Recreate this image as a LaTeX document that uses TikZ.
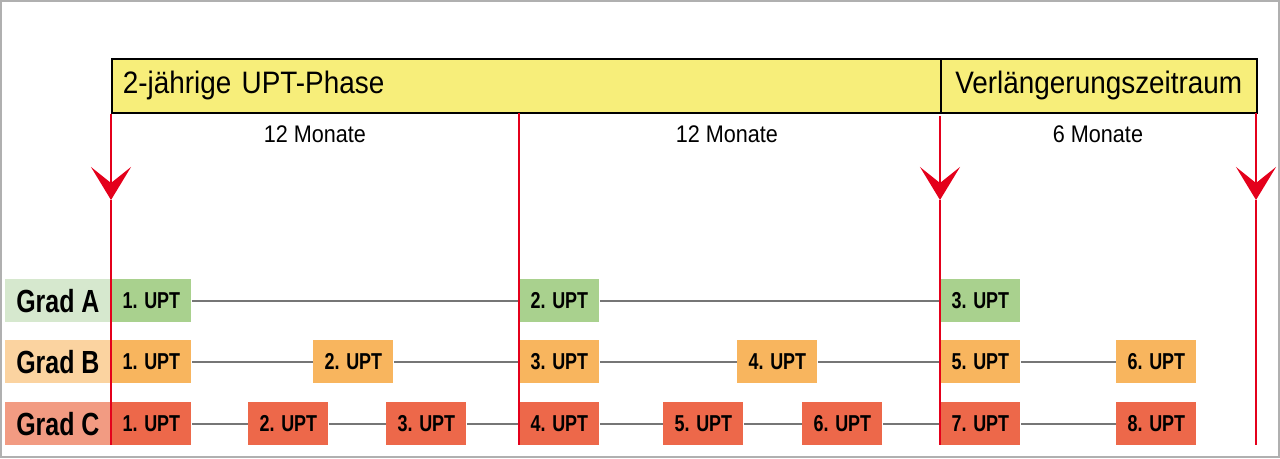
\documentclass[tikz,border=0pt]{standalone}
\usepackage{fontspec}
\setmainfont{Liberation Sans}
\newfontfamily\condfont[FakeStretch=0.78]{Liberation Sans}
\newfontfamily\midfont[FakeStretch=0.9]{Liberation Sans}
\usepackage{tikz}
\usetikzlibrary{arrows.meta,positioning}
\definecolor{barYellow}{RGB}{247,238,122}
\definecolor{markRed}{RGB}{228,0,27}
\definecolor{frameGray}{RGB}{176,176,176}
\definecolor{lineGray}{RGB}{118,118,118}
\definecolor{gradAdark}{RGB}{169,209,142}
\definecolor{gradAlight}{RGB}{214,232,206}
\definecolor{gradBdark}{RGB}{248,181,94}
\definecolor{gradBlight}{RGB}{251,211,160}
\definecolor{gradCdark}{RGB}{237,104,74}
\definecolor{gradClight}{RGB}{242,155,130}

\begin{document}
\begin{tikzpicture}[
  x=0.5pt, y=-0.5pt,
  phase/.style={draw=black, line width=0.8pt, fill=barYellow, minimum height=27pt, inner sep=0pt, font=\midfont\fontsize{15.5}{17}\selectfont},
  months/.style={font=\midfont\fontsize{12}{14}\selectfont},
  grad/.style={anchor=west, minimum width=52.5pt, minimum height=21.5pt, inner sep=0pt, font=\condfont\bfseries\fontsize{16}{18}\selectfont},
  upt/.style={anchor=west, minimum width=40pt, minimum height=21.5pt, inner sep=0pt, font=\condfont\bfseries\fontsize{11.5}{13}\selectfont},
  link/.style={draw=lineGray, line width=1pt},
  redmark/.style={draw=markRed, line width=1pt},
  redtip/.style={redmark, -{Stealth[length=16.5pt,width=20pt,inset=8pt]}}
]
\useasboundingbox (0,0) rectangle (1280,459);
\draw[frameGray, line width=1pt] (1,1) rectangle (1279,457);

% header bar
\node[phase, anchor=north west, minimum width=414.5pt, text width=403.5pt, align=left, inner xsep=5.5pt] (upt-phase) at (111,58) {2-jährige UPT-Phase};
\node[phase, anchor=north west, minimum width=158pt] (extension) at (940,58) {Verlängerungszeitraum};

\node[months] (m1) at (315,134) {12 Monate};
\node[months] (m2) at (727,134) {12 Monate};
\node[months] (m3) at (1098,134) {6 Monate};

% row labels
\node[grad, fill=gradAlight] (gradA) at (5,301) {Grad A};
\node[grad, fill=gradBlight] (gradB) at (5,362) {Grad B};
\node[grad, fill=gradClight] (gradC) at (5,424) {Grad C};

% Grad A
\node[upt, fill=gradAdark] (a1) at (111,301) {1. UPT};
\node[upt, fill=gradAdark] (a2) at (519,301) {2. UPT};
\node[upt, fill=gradAdark] (a3) at (940,301) {3. UPT};

% Grad B
\node[upt, fill=gradBdark] (b1) at (111,362) {1. UPT};
\node[upt, fill=gradBdark] (b2) at (313,362) {2. UPT};
\node[upt, fill=gradBdark] (b3) at (519,362) {3. UPT};
\node[upt, fill=gradBdark] (b4) at (737,362) {4. UPT};
\node[upt, fill=gradBdark] (b5) at (940,362) {5. UPT};
\node[upt, fill=gradBdark] (b6) at (1116,362) {6. UPT};

% Grad C
\node[upt, fill=gradCdark] (c1) at (111,424) {1. UPT};
\node[upt, fill=gradCdark] (c2) at (248,424) {2. UPT};
\node[upt, fill=gradCdark] (c3) at (386,424) {3. UPT};
\node[upt, fill=gradCdark] (c4) at (519,424) {4. UPT};
\node[upt, fill=gradCdark] (c5) at (663,424) {5. UPT};
\node[upt, fill=gradCdark] (c6) at (802,424) {6. UPT};
\node[upt, fill=gradCdark] (c7) at (940,424) {7. UPT};
\node[upt, fill=gradCdark] (c8) at (1116,424) {8. UPT};

\draw[link] (a1) -- (a2);
\draw[link] (a2) -- (a3);
\draw[link] (b1) -- (b2);
\draw[link] (b2) -- (b3);
\draw[link] (b3) -- (b4);
\draw[link] (b4) -- (b5);
\draw[link] (b5) -- (b6);
\draw[link] (c1) -- (c2);
\draw[link] (c2) -- (c3);
\draw[link] (c3) -- (c4);
\draw[link] (c4) -- (c5);
\draw[link] (c5) -- (c6);
\draw[link] (c6) -- (c7);
\draw[link] (c7) -- (c8);

% time marks
\coordinate (start-tip) at (111,200);
\coordinate (start-end) at (111,445);
\coordinate (year-top) at (519,113);
\coordinate (year-end) at (519,445);
\coordinate (phase-top) at (940,116);
\coordinate (phase-tip) at (940,200);
\coordinate (phase-end) at (940,445);
\coordinate (ext-top) at (1256,113);
\coordinate (ext-tip) at (1256,200);
\coordinate (ext-end) at (1256,445);

\draw[redtip] (upt-phase.south west) -- (start-tip);
\draw[redmark] (start-tip) -- (start-end);
\draw[redmark] (year-top) -- (year-end);
\draw[redtip] (phase-top) -- (phase-tip);
\draw[redmark] (phase-tip) -- (phase-end);
\draw[redtip] (ext-top) -- (ext-tip);
\draw[redmark] (ext-tip) -- (ext-end);
\end{tikzpicture}
\end{document}
